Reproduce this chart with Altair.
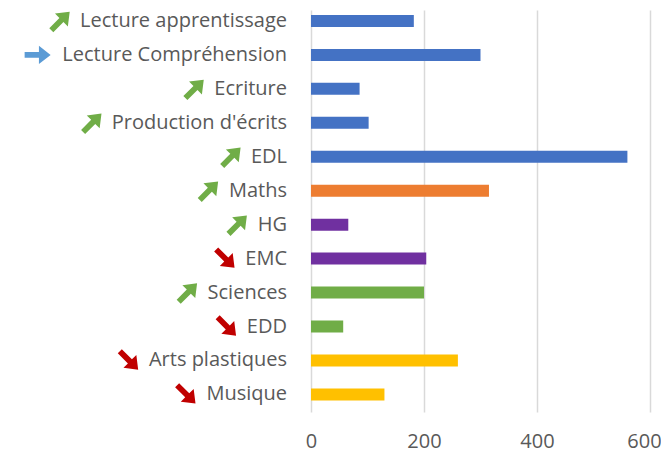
import altair as alt
import pandas as pd

categories = ["Lecture apprentissage", "Lecture Compréhension", "Ecriture",
              "Production d'écrits", "EDL", "Maths", "HG", "EMC", "Sciences",
              "EDD", "Arts plastiques", "Musique"]
values = [182, 300, 86, 102, 560, 315, 66, 204, 200, 57, 260, 130]
groups = ["Français", "Français", "Français", "Français", "Français",
          "Mathématiques", "Histoire", "Histoire", "Sciences", "Sciences",
          "Arts", "Arts"]
trends = ["hausse", "stable", "hausse", "hausse", "hausse", "hausse",
          "hausse", "baisse", "hausse", "baisse", "baisse", "baisse"]
x_ticks = [0, 200, 400, 600]

group_domain = ["Français", "Mathématiques", "Histoire", "Sciences", "Arts"]
group_colors = ["#4472C4", "#ED7D31", "#7030A0", "#70AD47", "#FFC000"]
trend_domain = ["hausse", "stable", "baisse"]
trend_colors = ["#70AD47", "#5B9BD5", "#C00000"]
trend_angle = {"hausse": 315, "stable": 0, "baisse": 45}

FONT = "Open Sans"
GRAY = "#595959"
FS = 20
LABEL_X = -24

# Open Sans Regular advance widths (units per em = 2048), to place the arrows
ADV = {" ": 532, "'": 393, "A": 1296, "C": 1292, "D": 1493, "E": 1124, "G": 1491,
       "H": 1511, "L": 1028, "M": 1849, "P": 1237, "S": 1100, "a": 1139, "c": 975,
       "d": 1255, "e": 1149, "é": 1149, "g": 1122, "h": 1257, "i": 518, "l": 518,
       "m": 1905, "n": 1257, "o": 1237, "p": 1255, "q": 1255, "r": 836, "s": 977,
       "t": 723, "u": 1257}


def text_width(s):
    return sum(ADV.get(ch, 1150) for ch in s) * FS / 2048.0


df = pd.DataFrame({"cat": categories, "val": values, "grp": groups, "trend": trends})
df["ang"] = [trend_angle[t] for t in trends]
df["ax"] = [LABEL_X - text_width(c) - (25 if t == "stable" else 20)
            for c, t in zip(categories, trends)]

ARROW = "M -1 -0.22 L 0.1 -0.22 L 0.1 -0.7 L 1 0 L 0.1 0.7 L 0.1 0.22 L -1 0.22 Z"

yscale = alt.Scale(paddingInner=0.647, paddingOuter=0.244, align=0.30)
Y = alt.Y("cat:N", sort=categories, scale=yscale, axis=None)

base = alt.Chart(df)

bars = base.mark_bar().encode(
    y=Y,
    x=alt.X("val:Q", scale=alt.Scale(domain=[0, 600], nice=False),
            axis=alt.Axis(values=x_ticks, grid=True, gridColor="#d9d9d9", gridWidth=1.5,
                          domain=False, ticks=False, labelFontSize=FS, labelColor=GRAY,
                          labelFont=FONT, labelPadding=19, labelFlush=False,
                          labelOffset={"condition": {"test": "datum.value === 600", "value": -6},
                                       "value": 0},
                          title=None)),
    color=alt.Color("grp:N", scale=alt.Scale(domain=group_domain, range=group_colors), legend=None),
)

arrows = base.mark_point(shape=ARROW, filled=True, size=676, opacity=1, strokeWidth=0).encode(
    y=Y,
    x=alt.X("ax:Q", scale=None),
    angle=alt.Angle("ang:Q", scale=None),
    color=alt.Color("trend:N", scale=alt.Scale(domain=trend_domain, range=trend_colors), legend=None),
)

labels = base.mark_text(align="right", baseline="middle", font=FONT, fontSize=FS,
                        color=GRAY).encode(
    y=Y, x=alt.value(LABEL_X), text="cat:N",
)

chart = alt.layer(bars, arrows, labels).resolve_scale(color="independent").properties(
    width=339, height=402,
    autosize=alt.AutoSizeParams(type="none"),
    padding={"left": 303, "top": 2, "right": 11, "bottom": 44},
).configure_view(stroke=None)

chart.save("out.html", embed_options={"renderer": "svg", "actions": False})
